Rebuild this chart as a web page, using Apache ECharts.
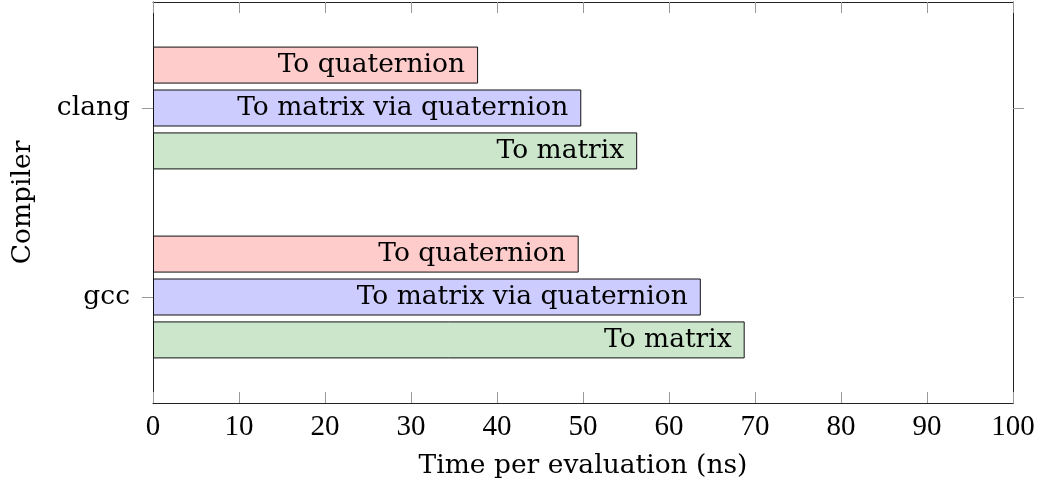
<!DOCTYPE html>
<html>
<head>
<meta charset="utf-8">
<script src="https://cdn.jsdelivr.net/npm/echarts@6/dist/echarts.min.js"></script>
<style>
html,body{margin:0;padding:0;background:#fff;}
#chart{width:1041px;height:491px;}
</style>
</head>
<body>
<div id="chart"></div>
<script>
const compilers = ['gcc', 'clang'];
const seriesNames = ['To quaternion', 'To matrix via quaternion', 'To matrix'];
const toQuaternion = [49.5, 37.8];
const toMatrixViaQuaternion = [63.7, 49.8];
const toMatrix = [68.8, 56.3];
const xTicks = [0, 10, 20, 30, 40, 50, 60, 70, 80, 90, 100];

const WORD_FONT = 'DejaVu Serif';
const WORD_FS = 26.5;
const NUM_FONT = 'Liberation Serif';
const NUM_FS = 29;
const colors = ['#ffcccc', '#ccccff', '#cce6cc'];
const values = [toQuaternion, toMatrixViaQuaternion, toMatrix];

const chart = echarts.init(document.getElementById('chart'), null, {renderer: 'canvas'});

const lineStyle = {color: '#222', width: 1};
const tickStyle = {color: '#999', width: 1};

const option = {
  animation: false,
  backgroundColor: '#fff',
  textStyle: {fontFamily: WORD_FONT},
  grid: [
    {left: 153, right: 28, top: 2, bottom: 88, containLabel: false},
    {left: 153, right: 28, top: 13.5, bottom: 99.5, containLabel: false}
  ],
  xAxis: [
    {
      gridIndex: 0, type: 'value', position: 'bottom',
      min: xTicks[0], max: xTicks[xTicks.length - 1], interval: 10,
      axisLine: {show: true, onZero: false, lineStyle: lineStyle},
      axisTick: {show: true, inside: true, length: 11, lineStyle: tickStyle},
      axisLabel: {show: true, fontFamily: NUM_FONT, fontSize: NUM_FS, color: '#000', margin: 10},
      splitLine: {show: false},
      name: 'Time per evaluation (ns)', nameLocation: 'middle', nameGap: 50,
      nameTextStyle: {fontFamily: WORD_FONT, fontSize: WORD_FS, color: '#000'}
    },
    {
      gridIndex: 0, type: 'value', position: 'top',
      min: xTicks[0], max: xTicks[xTicks.length - 1], interval: 10,
      axisLine: {show: true, onZero: false, lineStyle: lineStyle},
      axisTick: {show: true, inside: true, length: 11, lineStyle: tickStyle},
      axisLabel: {show: false},
      splitLine: {show: false}
    },
    {
      gridIndex: 1, type: 'value',
      min: xTicks[0], max: xTicks[xTicks.length - 1],
      show: false
    }
  ],
  yAxis: [
    {
      gridIndex: 0, type: 'value', position: 'left', min: 0, max: 1,
      axisLine: {show: true, onZero: false, lineStyle: lineStyle},
      axisTick: {show: false}, axisLabel: {show: false}, splitLine: {show: false},
      name: 'Compiler', nameLocation: 'middle', nameRotate: 90, nameGap: 116,
      nameTextStyle: {fontFamily: WORD_FONT, fontSize: WORD_FS, color: '#000'}
    },
    {
      gridIndex: 0, type: 'value', position: 'right', min: 0, max: 1,
      axisLine: {show: true, onZero: false, lineStyle: lineStyle},
      axisTick: {show: false}, axisLabel: {show: false}, splitLine: {show: false}
    },
    {
      gridIndex: 1, type: 'category', position: 'left', data: compilers,
      axisLine: {show: false},
      axisTick: {show: true, alignWithLabel: true, inside: false, length: 11, lineStyle: tickStyle},
      axisLabel: {fontFamily: WORD_FONT, fontSize: WORD_FS, color: '#000', margin: 23},
      splitLine: {show: false}
    },
    {
      gridIndex: 1, type: 'category', position: 'right', data: compilers,
      axisLine: {show: false},
      axisTick: {show: true, alignWithLabel: true, inside: false, length: 11, lineStyle: tickStyle},
      axisLabel: {show: false},
      splitLine: {show: false}
    }
  ],
  series: seriesNames.map((name, i) => ({
    name: name,
    type: 'bar',
    xAxisIndex: 2,
    yAxisIndex: 2,
    data: values[i],
    barWidth: 37,
    barGap: '16%',
    itemStyle: {color: colors[i], borderColor: '#111', borderWidth: 1},
    label: {
      show: true, position: 'insideRight', distance: 13,
      formatter: name,
      fontFamily: WORD_FONT, fontSize: WORD_FS, color: '#000'
    }
  }))
};

chart.setOption(option);
</script>
</body>
</html>
